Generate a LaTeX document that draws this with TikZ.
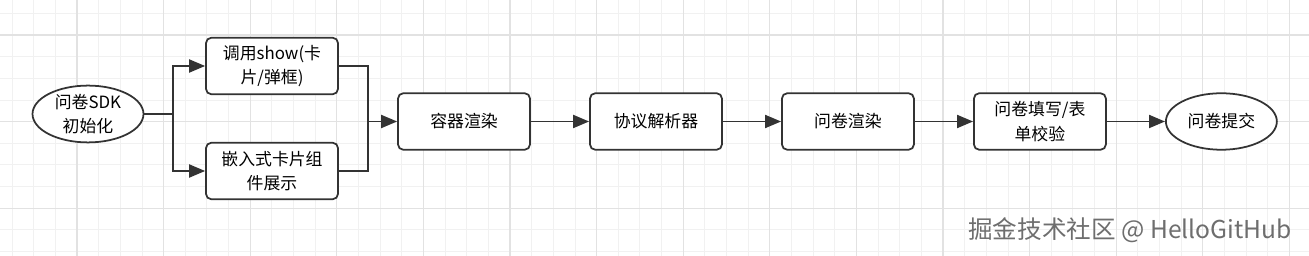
\documentclass[tikz,border=0pt]{standalone}
\usepackage{fontspec}
\usepackage{tikz}
\usetikzlibrary{arrows.meta, positioning, shapes.geometric}
\newfontfamily\cjk{Noto Sans CJK SC}
\definecolor{linedark}{RGB}{51,51,51}
\definecolor{gridminor}{RGB}{241,241,241}
\definecolor{gridmajor}{RGB}{226,226,226}
\definecolor{markgray}{RGB}{110,110,110}

\begin{document}
\begin{tikzpicture}[
    x=0.02cm, y=-0.02cm,
    every node/.style={font=\cjk\fontsize{9.6}{14}\selectfont},
    stage/.style={rectangle, draw=linedark, fill=white, rounded corners=3pt, minimum width=2.64cm, minimum height=1.13cm, align=center, line width=1pt},
    terminal/.style={ellipse, draw=linedark, fill=white, minimum width=2.22cm, minimum height=1.13cm, inner sep=0pt, align=center, line width=1pt},
    link/.style={draw=linedark, line width=1.1pt},
    arrow/.style={link, -{Triangle[length=3.2mm, width=2.6mm]}},
    watermark/.style={font=\cjk\fontsize{14}{16}\selectfont, text=markgray}
]

% canvas and grid
\useasboundingbox (0,0) rectangle (1309,256);
\fill[white] (0,0) rectangle (1309,256);
\foreach \gx in {0,...,60}
    \draw[gridminor, line width=0.5pt] ({12.05+21.65*\gx},0) -- ++(0,256);
\foreach \gy in {0,...,11}
    \draw[gridminor, line width=0.5pt] (0,{13.35+21.65*\gy}) -- ++(1309,0);
\foreach \gx in {0,...,14}
    \draw[gridmajor, line width=0.6pt] ({77+86.6*\gx},0) -- ++(0,256);
\foreach \gy in {0,...,2}
    \draw[gridmajor, line width=0.6pt] (0,{35+86.6*\gy}) -- ++(1309,0);

\node[terminal] (init) at (88,114) {问卷SDK\\初始化};
\node[stage] (show) at (272,66) {调用show(卡\\片/弹框)};
\node[stage] (embed) at (272,171) {嵌入式卡片组\\件展示};
\node[stage] (container) at (464,121.5) {容器渲染};
\node[stage, right=1.165cm of container] (parser) {协议解析器};
\node[stage, right=1.165cm of parser] (render) {问卷渲染};
\node[stage, right=1.165cm of render] (fill) {问卷填写/表\\单校验};
\node[terminal, right=1.165cm of fill] (submit) {问卷提交};

\coordinate (split) at (173,114);
\coordinate (merge) at (368,121.5);

% branch to the two entry modes
\draw[link] (init) -- (split);
\draw[arrow] (split) |- (show);
\draw[arrow] (split) |- (embed);

% join into the container
\draw[link] (show) -| (merge) |- (embed);
\draw[arrow] (merge) -- (container);

% main chain
\draw[arrow] (container) -- (parser);
\draw[arrow] (parser) -- (render);
\draw[arrow] (render) -- (fill);
\draw[arrow] (fill) -- (submit);

\node[watermark] (mark) at (1130,230) {掘金技术社区 @ HelloGitHub};

\end{tikzpicture}
\end{document}
